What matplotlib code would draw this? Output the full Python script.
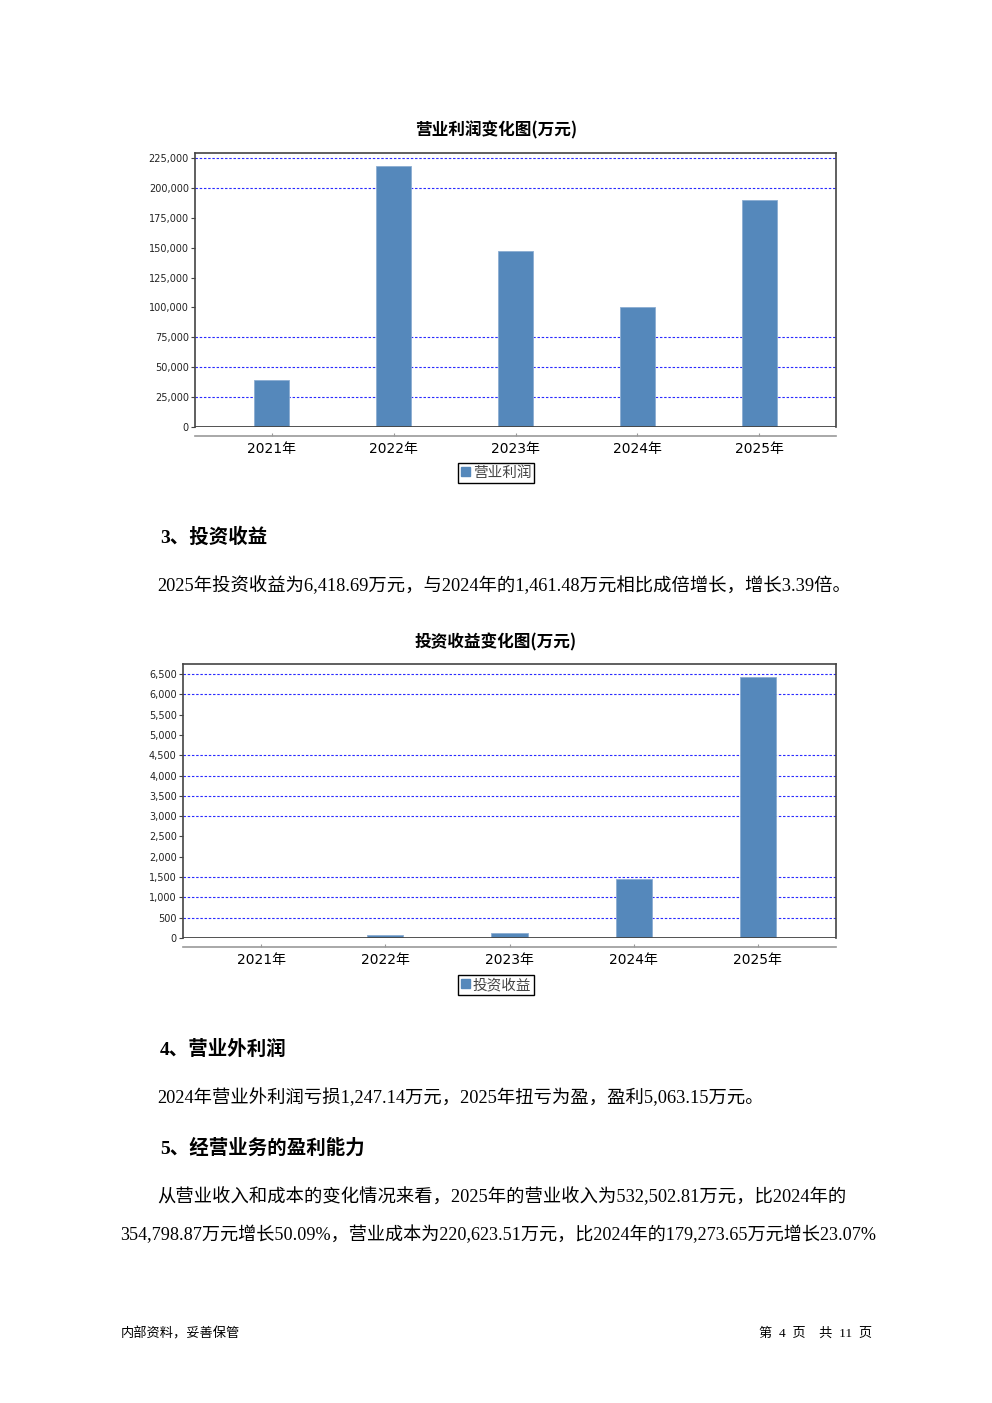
import matplotlib
matplotlib.use('Agg')
import matplotlib.pyplot as plt
from matplotlib.patches import Patch
from matplotlib.ticker import FuncFormatter

W, H = 992, 1403

# data
years = ['2021年', '2022年', '2023年', '2024年', '2025年']

op_profit = [39300, 218300, 147200, 100400, 189900]
op_ticks = list(range(0, 225001, 25000))
op_grid = [25000, 50000, 75000, 200000, 225000]

inv_income = [0, 80, 130, 1461.48, 6418.69]
inv_ticks = list(range(0, 6501, 500))
inv_grid = [500, 1000, 1500, 3000, 3500, 4000, 4500, 6000, 6500]

# styles
bar_color = '#5588bb'
grid_color = '#2a2aff'
cjk_sans = ['Noto Sans CJK SC', 'DejaVu Sans']
body_font = ['Liberation Serif', 'Noto Sans CJK SC']
plt.rcParams['font.family'] = ['DejaVu Sans', 'Noto Sans CJK SC']

fig = plt.figure(figsize=(W / 100, H / 100), dpi=100)
fig.patch.set_facecolor('white')


def px_text(x, y, s, **kw):
    fig.text(x / W, 1 - y / H, s, **kw)


def bar_chart(rect, title, title_y, values, ticks, grid, ymax, label, legend_y):
    l, t, r, b = rect
    ax = fig.add_axes([l / W, 1 - b / H, (r - l) / W, (b - t) / H])
    x = list(range(len(years)))
    ax.bar(x, values, width=0.29, color=bar_color, edgecolor='#8cadd2',
           linewidth=0.6, zorder=3)
    for g in grid:
        ax.axhline(g, color=grid_color, lw=0.8, ls=(0, (2.2, 1.6)), zorder=1)
    ax.axhline(0, color='#444444', lw=1.3, zorder=4)
    ax.set_xlim(-0.63, 4.63)
    ax.set_ylim(0, ymax)

    ax.set_xticks(x)
    ax.set_xticklabels(years, fontsize=7.5, color='#333333')
    ax.set_yticks(ticks)
    ax.yaxis.set_major_formatter(FuncFormatter(lambda v, p: f'{int(v):,}'))
    ax.tick_params(axis='y', length=3, width=0.8, color='#444444', pad=1.5,
                   labelsize=7, labelcolor='#222222')
    ax.tick_params(axis='x', length=2, width=0.8, color='#999999', direction='in', pad=4.5)

    for side in ['left', 'top', 'right']:
        ax.spines[side].set_color('#444444')
        ax.spines[side].set_linewidth(1.2)
    ax.spines['bottom'].set_position(('outward', 6.5))
    ax.spines['bottom'].set_color('#999999')
    ax.spines['bottom'].set_linewidth(1.2)

    px_text(496, title_y, title, family=cjk_sans, fontsize=12,
            fontweight='bold', ha='center', va='center')

    leg = fig.legend(handles=[Patch(facecolor=bar_color, edgecolor=bar_color)],
                     labels=[label], loc='center',
                     bbox_to_anchor=(496 / W, 1 - legend_y / H),
                     prop={'family': cjk_sans, 'size': 10.5},
                     fancybox=False, framealpha=1, edgecolor='black',
                     handlelength=0.6, handleheight=0.6, handletextpad=0.2,
                     borderpad=0.2, borderaxespad=0)
    leg.get_frame().set_linewidth(1.0)
    for txt in leg.get_texts():
        txt.set_color('#444444')
    return ax


bar_chart((195, 153, 836, 427), '营业利润变化图(万元)', 130,
          op_profit, op_ticks, op_grid, 229200, '营业利润', 473)

bar_chart((183, 664, 836, 938), '投资收益变化图(万元)', 642,
          inv_income, inv_ticks, inv_grid, 6746, '投资收益', 985)

# body text
head_kw = dict(family=body_font, fontsize=14, fontweight='bold', va='center')
body_kw = dict(family=body_font, fontsize=13.2, va='center')

px_text(160, 537, '3、投资收益', **head_kw)
px_text(157, 586, '2025年投资收益为6,418.69万元，与2024年的1,461.48万元相比成倍增长，增长3.39倍。', **body_kw)

px_text(160, 1049, '4、营业外利润', **head_kw)
px_text(157, 1098, '2024年营业外利润亏损1,247.14万元，2025年扭亏为盈，盈利5,063.15万元。', **body_kw)

px_text(160, 1148, '5、经营业务的盈利能力', **head_kw)
px_text(157, 1197, '从营业收入和成本的变化情况来看，2025年的营业收入为532,502.81万元，比2024年的', **body_kw)
px_text(120, 1235, '354,798.87万元增长50.09%，营业成本为220,623.51万元，比2024年的179,273.65万元增长23.07%',
        family=body_font, fontsize=13.07, va='center')

# footer
px_text(121, 1334, '内部资料，妥善保管', family=body_font, fontsize=9.5, va='center')
px_text(872, 1334, '第  4  页    共  11  页', family=body_font, fontsize=9.5, va='center', ha='right')

fig.savefig('out.png', dpi=100, facecolor='white')
